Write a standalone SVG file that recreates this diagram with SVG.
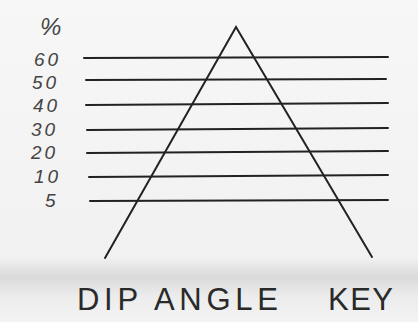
<svg xmlns="http://www.w3.org/2000/svg" width="418" height="322" viewBox="0 0 418 322">
<defs>
<linearGradient id="bg" x1="0" y1="0" x2="0" y2="1">
<stop offset="0" stop-color="#f7f7f7"/>
<stop offset="0.8" stop-color="#f1f1f1"/>
<stop offset="0.86" stop-color="#dadada"/>
<stop offset="0.92" stop-color="#ececec"/>
<stop offset="1" stop-color="#f4f4f4"/>
</linearGradient>
<style>
.ln{stroke:#222;stroke-width:2;fill:none;stroke-linecap:round}
.lb{font-family:"Liberation Sans",Arial,sans-serif;font-style:italic;font-size:19px;fill:#444;letter-spacing:3px}
.ti{font-family:"Liberation Sans",Arial,sans-serif;font-size:31px;fill:#2a2a2a}
</style>
</defs>
<rect width="418" height="322" fill="url(#bg)"/>
<g id="labels">
<text class="lb" x="40" y="35" style="font-size:24px;letter-spacing:0">%</text>
<text class="lb" x="34" y="66">60</text>
<text class="lb" x="32" y="89">50</text>
<text class="lb" x="33" y="112">40</text>
<text class="lb" x="31" y="136">30</text>
<text class="lb" x="31" y="159">20</text>
<text class="lb" x="34" y="183">10</text>
<text class="lb" x="45" y="207">5</text>
</g>
<g id="connectors">
<line class="ln" x1="84" y1="58" x2="388" y2="57"/>
<line class="ln" x1="86" y1="80" x2="386" y2="79"/>
<line class="ln" x1="86" y1="105" x2="388" y2="103"/>
<line class="ln" x1="87" y1="130" x2="388" y2="128"/>
<line class="ln" x1="87" y1="153" x2="388" y2="151"/>
<line class="ln" x1="89" y1="177" x2="388" y2="175"/>
<line class="ln" x1="90" y1="201" x2="388" y2="200"/>
<polyline class="ln" points="105,258 236,27 372,257"/>
</g>
<g id="title">
<text class="ti" x="77" y="310" textLength="201" lengthAdjust="spacing">DIP ANGLE</text>
<text class="ti" x="328" y="310" textLength="65" lengthAdjust="spacing">KEY</text>
</g>
</svg>
